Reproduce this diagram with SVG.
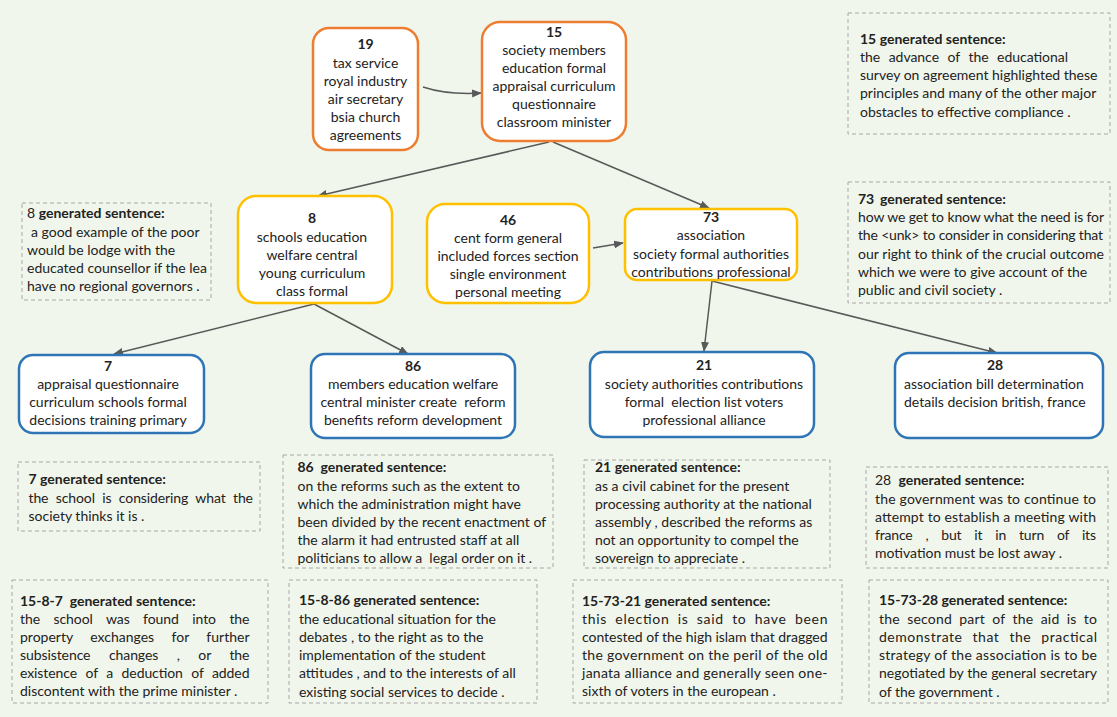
<svg xmlns="http://www.w3.org/2000/svg" width="1117" height="717" viewBox="0 0 1117 717">
<defs>
<marker id="ah" markerWidth="10" markerHeight="8" refX="9" refY="4" orient="auto" markerUnits="userSpaceOnUse"><path d="M0,0 L10,4 L0,8 z" fill="#595959"/></marker>
<style>
.n{fill:#fff;stroke-width:2.5}
.o{stroke:#ed7d31}
.y{stroke:#ffc000}
.b{stroke:#2e75b6}
.d{fill:none;stroke:#a6a6a6;stroke-width:1;stroke-dasharray:4 3}
text{font-family:Lato,"Liberation Sans",sans-serif;font-size:14px;fill:#222}
.c{text-anchor:middle}
.t{font-weight:bold}
.e{fill:none;stroke:#595959;stroke-width:1.5;marker-end:url(#ah)}
</style>
</defs>
<rect x="0" y="0" width="1117" height="717" fill="#f1f6ec"/>

<g id="connectors">
<path class="e" d="M423,87 Q447,95 481,93"/>
<path class="e" d="M549,142 L318,196"/>
<path class="e" d="M553,142 L709,208"/>
<path class="e" d="M593,248 L623,243"/>
<path class="e" d="M314,304 L114,354"/>
<path class="e" d="M314,304 L408,354"/>
<path class="e" d="M712,281 L704,351"/>
<path class="e" d="M712,281 L997,353"/>
</g>

<g id="node19">
<rect class="n o" x="313" y="28" width="105" height="122" rx="16"/>
<text class="c t" x="365.5" y="49">19</text>
<text class="c" x="365.5" y="67.5">tax service</text>
<text class="c" x="365.5" y="86">royal industry</text>
<text class="c" x="365.5" y="104">air secretary</text>
<text class="c" x="365.5" y="122">bsia church</text>
<text class="c" x="365.5" y="140">agreements</text>
</g>

<g id="node15">
<rect class="n o" x="482" y="22" width="144" height="119" rx="18"/>
<text class="c t" x="554" y="37">15</text>
<text class="c" x="554" y="54.5">society members</text>
<text class="c" x="554" y="72.5">education formal</text>
<text class="c" x="554" y="90.5">appraisal curriculum</text>
<text class="c" x="554" y="108.5">questionnaire</text>
<text class="c" x="554" y="126.5">classroom minister</text>
</g>

<g id="node8">
<rect class="n y" x="238" y="196" width="154" height="107" rx="18"/>
<text class="c t" x="312" y="223">8</text>
<text class="c" x="312" y="241.5">schools education</text>
<text class="c" x="312" y="259.5">welfare central</text>
<text class="c" x="312" y="277.5">young curriculum</text>
<text class="c" x="312" y="295.5">class formal</text>
</g>

<g id="node46">
<rect class="n y" x="427" y="204" width="162" height="99" rx="18"/>
<text class="c t" x="508" y="224.5">46</text>
<text class="c" x="508" y="242.5">cent form general</text>
<text class="c" x="508" y="260.5">included forces section</text>
<text class="c" x="508" y="278.5">single environment</text>
<text class="c" x="508" y="296.5">personal meeting</text>
</g>

<g id="node73">
<rect class="n y" x="625" y="209" width="172" height="71" rx="12"/>
<text class="c t" x="711" y="222">73</text>
<text class="c" x="711" y="240">association</text>
<text class="c" x="711" y="258.5">society formal authorities</text>
<text class="c" x="711" y="276.5">contributions professional</text>
</g>

<g id="node7">
<rect class="n b" x="19" y="355" width="185" height="78" rx="14"/>
<text class="c t" x="108" y="370.5">7</text>
<text class="c" x="108" y="389">appraisal questionnaire</text>
<text class="c" x="108" y="407">curriculum schools formal</text>
<text class="c" x="108" y="425">decisions training primary</text>
</g>

<g id="node86">
<rect class="n b" x="311" y="354" width="204" height="84" rx="14"/>
<text class="c t" x="413" y="370.5">86</text>
<text class="c" x="413" y="389">members education welfare</text>
<text class="c" x="413" y="407" xml:space="preserve">central minister create  reform</text>
<text class="c" x="413" y="425">benefits reform development</text>
</g>

<g id="node21">
<rect class="n b" x="590" y="352" width="224" height="85" rx="14"/>
<text class="c t" x="704" y="370">21</text>
<text class="c" x="704" y="388.5">society authorities contributions</text>
<text class="c" x="704" y="406.5" xml:space="preserve">formal  election list voters</text>
<text class="c" x="704" y="424.5">professional alliance</text>
</g>

<g id="node28">
<rect class="n b" x="895" y="353" width="208" height="85" rx="14"/>
<text class="c t" x="995" y="370">28</text>
<text x="904" y="389">association bill determination</text>
<text x="904" y="407">details decision british, france</text>
</g>

<g id="sent15">
<rect class="d" x="848" y="13" width="262" height="121"/>
<text class="t" x="860" y="43.5">15 generated sentence:</text>
<text x="860" y="62" word-spacing="5" textLength="208" lengthAdjust="spacing">the advance of the educational</text>
<text x="860" y="80">survey on agreement highlighted these</text>
<text x="860" y="98">principles and many of the other major</text>
<text x="860" y="117">obstacles to effective compliance .</text>
</g>

<g id="sent8">
<rect class="d" x="22" y="203" width="189" height="97"/>
<text x="27" y="218">8 <tspan class="t">generated sentence:</tspan></text>
<text x="31" y="236.5">a good example of the poor</text>
<text x="27" y="254.5">would be lodge with the</text>
<text x="27" y="272.5">educated counsellor if the lea</text>
<text x="27" y="291">have no regional governors .</text>
</g>

<g id="sent73">
<rect class="d" x="848" y="182" width="262" height="121"/>
<text class="t" x="858" y="203.5">73<tspan x="880">generated sentence:</tspan></text>
<text x="858" y="222" textLength="246" lengthAdjust="spacing">how we get to know what the need is for</text>
<text x="858" y="240" textLength="245" lengthAdjust="spacing">the &lt;unk&gt; to consider in considering that</text>
<text x="858" y="258.5" textLength="246" lengthAdjust="spacing">our right to think of the crucial outcome</text>
<text x="858" y="277">which we were to give account of the</text>
<text x="858" y="295">public and civil society .</text>
</g>

<g id="sent7">
<rect class="d" x="18" y="462" width="242" height="69"/>
<text class="t" x="28.5" y="484">7 generated sentence:</text>
<text x="28.5" y="502.5" word-spacing="3.9" textLength="224.5" lengthAdjust="spacing">the school is considering what the</text>
<text x="28.5" y="521">society thinks it is .</text>
</g>

<g id="sent86">
<rect class="d" x="283" y="455" width="270" height="113"/>
<text class="t" x="297.5" y="472" xml:space="preserve">86  generated sentence:</text>
<text x="297.5" y="490.5">on the reforms such as the extent to</text>
<text x="297.5" y="509">which the administration might have</text>
<text x="297.5" y="527">been divided by the recent enactment of</text>
<text x="297.5" y="545">the alarm it had entrusted staff at all</text>
<text x="297.5" y="563" xml:space="preserve">politicians to allow a  legal order on it .</text>
</g>

<g id="sent21">
<rect class="d" x="584" y="460" width="246" height="108"/>
<text class="t" x="595" y="472">21 generated sentence:</text>
<text x="595" y="490.5">as a civil cabinet for the present</text>
<text x="595" y="508.5">processing authority at the national</text>
<text x="595" y="526.5">assembly , described the reforms as</text>
<text x="595" y="545">not an opportunity to compel the</text>
<text x="595" y="563">sovereign to appreciate .</text>
</g>

<g id="sent28">
<rect class="d" x="866" y="467" width="242" height="101"/>
<text x="875" y="485" xml:space="preserve">28  <tspan class="t">generated sentence:</tspan></text>
<text x="875" y="503.5" textLength="221" lengthAdjust="spacing">the government was to continue to</text>
<text x="875" y="522" textLength="221" lengthAdjust="spacing">attempt to establish a meeting with</text>
<text x="875" y="540" word-spacing="9.5" textLength="221" lengthAdjust="spacing">france , but it in turn of its</text>
<text x="875" y="558">motivation must be lost away .</text>
</g>

<g id="sent15-8-7">
<rect class="d" x="12" y="580" width="256" height="123"/>
<text class="t" x="20" y="606" xml:space="preserve">15-8-7  generated sentence:</text>
<text x="20" y="624" word-spacing="10" textLength="229.5" lengthAdjust="spacing">the school was found into the</text>
<text x="20" y="642" word-spacing="13.8" textLength="229.5" lengthAdjust="spacing">property exchanges for further</text>
<text x="20" y="660" word-spacing="15" textLength="229.5" lengthAdjust="spacing">subsistence changes , or the</text>
<text x="20" y="678" word-spacing="5" textLength="229.5" lengthAdjust="spacing">existence of a deduction of added</text>
<text x="20" y="696">discontent with the prime minister .</text>
</g>

<g id="sent15-8-86">
<rect class="d" x="289" y="580" width="248" height="123"/>
<text class="t" x="299" y="605">15-8-86 generated sentence:</text>
<text x="299" y="623.5">the educational situation for the</text>
<text x="299" y="642">debates , to the right as to the</text>
<text x="299" y="660">implementation of the student</text>
<text x="299" y="678">attitudes , and to the interests of all</text>
<text x="299" y="696.5">existing social services to decide .</text>
</g>

<g id="sent15-73-21">
<rect class="d" x="573" y="580" width="269" height="123"/>
<text class="t" x="582" y="606">15-73-21 generated sentence:</text>
<text x="582" y="624" word-spacing="4" textLength="245.5" lengthAdjust="spacing">this election is said to have been</text>
<text x="582" y="642" textLength="245.5" lengthAdjust="spacing">contested of the high islam that dragged</text>
<text x="582" y="660" textLength="245.5" lengthAdjust="spacing">the government on the peril of the old</text>
<text x="582" y="678" textLength="245.5" lengthAdjust="spacing">janata alliance and generally seen one-</text>
<text x="582" y="696">sixth of voters in the european .</text>
</g>

<g id="sent15-73-28">
<rect class="d" x="869" y="580" width="239" height="123"/>
<text class="t" x="879" y="605">15-73-28 generated sentence:</text>
<text x="879" y="623.5" word-spacing="3.5" textLength="218" lengthAdjust="spacing">the second part of the aid is to</text>
<text x="879" y="642" word-spacing="6" textLength="218" lengthAdjust="spacing">demonstrate that the practical</text>
<text x="879" y="660" textLength="218" lengthAdjust="spacing">strategy of the association is to be</text>
<text x="879" y="678" textLength="218" lengthAdjust="spacing">negotiated by the general secretary</text>
<text x="879" y="696.5">of the government .</text>
</g>
</svg>
